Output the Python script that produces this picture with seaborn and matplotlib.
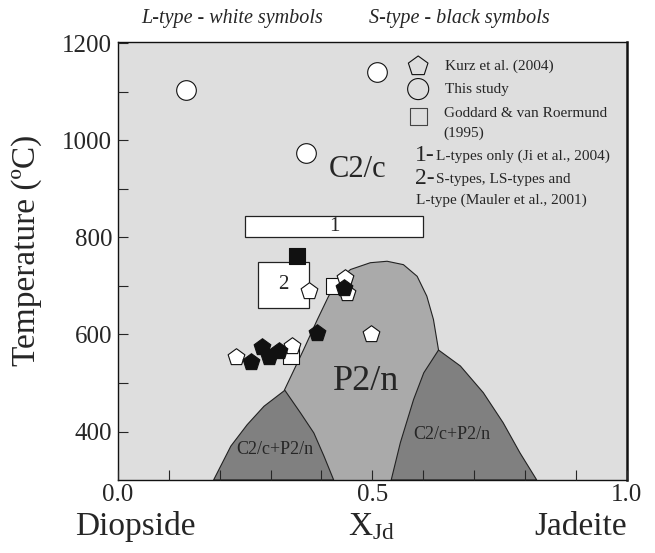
import numpy as np
import pandas as pd
import seaborn as sns
import matplotlib.pyplot as plt
from matplotlib.patches import Rectangle

# --- data ---
circle_x = [0.133, 0.369, 0.510]
circle_t = [1105, 975, 1142]

pent_white_x = [0.375, 0.447, 0.451, 0.498, 0.343, 0.233]
pent_white_t = [689, 717, 686, 600, 577, 553]
pent_black_x = [0.445, 0.392, 0.284, 0.261, 0.296, 0.316]
pent_black_t = [695, 604, 575, 544, 553, 565]

square_white_x = [0.424, 0.341]
square_white_t = [699, 555]
square_black_x = [0.351]
square_black_t = [761]

# field boxes: (x0, x1, t0, t1)
box1 = (0.25, 0.60, 800, 845)
box2 = (0.275, 0.375, 655, 750)

# phase field boundaries
dome_x = [0.327, 0.365, 0.392, 0.414, 0.431, 0.457, 0.496, 0.529, 0.561, 0.588, 0.607, 0.620, 0.630]
dome_t = [485, 569, 631, 679, 710, 734, 748, 751, 744, 720, 679, 631, 568]
left_x = [0.188, 0.222, 0.254, 0.287, 0.328, 0.359, 0.385, 0.405, 0.424]
left_t = [300, 370, 414, 452, 485, 438, 397, 349, 300]
right_x = [0.537, 0.555, 0.581, 0.601, 0.630, 0.673, 0.718, 0.757, 0.790, 0.823]
right_t = [300, 377, 466, 521, 568, 535, 480, 418, 356, 300]

sns.set_style("ticks")
plt.rcParams['font.family'] = ['Liberation Serif', 'DejaVu Serif']
plt.rcParams['mathtext.fontset'] = 'stix'

fig = plt.figure(figsize=(6.55, 5.53), dpi=100)
ax = fig.add_axes([0.180, 0.132, 0.777, 0.792])
ax.set_facecolor('#dedede')
ax.set_axisbelow(False)

ax.fill(dome_x + [0.63, 0.33], dome_t + [300, 300], color='#aaaaaa', lw=0, zorder=1)
ax.plot(dome_x, dome_t, color='#222222', lw=0.8, zorder=1.2)
ax.fill(left_x, left_t, color='#808080', ec='#222222', lw=0.8, zorder=1.5)
ax.fill(right_x, right_t, color='#808080', ec='#222222', lw=0.8, zorder=1.5)

for (x0, x1, t0, t1), lab in [(box1, '1'), (box2, '2')]:
    ax.add_patch(Rectangle((x0, t0), x1 - x0, t1 - t0, fc='white', ec='#222222', lw=0.9, zorder=2))
    ax.text((x0 + x1) / 2, (t0 + t1) / 2, lab, ha='center', va='center', fontsize=15, zorder=3)

sets = [
    (circle_x, circle_t, 'o', 'white', 200),
    (square_white_x, square_white_t, 's', 'white', 120),
    (square_black_x, square_black_t, 's', '#111111', 120),
    (pent_white_x, pent_white_t, 'p', 'white', 160),
    (pent_black_x, pent_black_t, 'p', '#111111', 160),
]
for xs, ts, m, c, s in sets:
    df = pd.DataFrame({'x': xs, 't': ts})
    sns.scatterplot(data=df, x='x', y='t', marker=m, color=c, edgecolor='#111111',
                    linewidth=0.8, s=s, ax=ax, zorder=4)

# field labels
ax.text(0.471, 940, 'C2/c', fontsize=22, ha='center', va='center')
ax.text(0.488, 503, 'P2/n', fontsize=26, ha='center', va='center')
ax.text(0.308, 363, 'C2/c+P2/n', fontsize=13, ha='center', va='center')
ax.text(0.657, 393, 'C2/c+P2/n', fontsize=13, ha='center', va='center')

# key
lx = 0.59
ax.scatter([lx], [1153], marker='p', s=220, fc='none', ec='#111111', lw=0.8)
ax.scatter([lx], [1106], marker='o', s=230, fc='none', ec='#111111', lw=0.8)
ax.scatter([lx], [1050], marker='s', s=150, fc='none', ec='#444444', lw=0.8)
kw = dict(fontsize=11, va='center')
ax.text(0.643, 1153, 'Kurz et al. (2004)', **kw)
ax.text(0.643, 1106, 'This study', **kw)
ax.text(0.64, 1055, 'Goddard & van Roermund', **kw)
ax.text(0.64, 1014, '(1995)', **kw)
ax.text(0.584, 969, '1-', fontsize=17, va='center')
ax.text(0.625, 968, 'L-types only (Ji et al., 2004)', **kw)
ax.text(0.584, 921, '2-', fontsize=17, va='center')
ax.text(0.625, 919, 'S-types, LS-types and', **kw)
ax.text(0.586, 876, 'L-type (Mauler et al., 2001)', **kw)

ax.set_xlim(0, 1)
ax.set_ylim(300, 1203)
ax.set_xticks([0, 0.5, 1.0])
ax.set_xticklabels(['0.0', '0.5', '1.0'])
ax.set_xticks(np.arange(0.1, 1.0, 0.1), minor=True)
ax.set_yticks([400, 600, 800, 1000, 1200])
ax.set_yticks([500, 700, 900, 1100], minor=True)
ax.tick_params(axis='both', which='both', direction='in', labelsize=18, length=7, width=0.8)
ax.tick_params(axis='x', pad=3)
ax.tick_params(axis='y', pad=4)
ax.set_xlabel('')
ax.set_ylabel('Temperature (ºC)', fontsize=24)
ax.yaxis.set_label_coords(-0.149, 0.525)
for sp in ax.spines.values():
    sp.set_linewidth(1.0)
    sp.set_color('#111111')
ax.spines['right'].set_linewidth(1.8)

fig.text(135 / 655, 1 - 527 / 553, 'Diopside', fontsize=24, ha='center', va='center')
fig.text(372 / 655, 1 - 527 / 553, r'X$_{\mathregular{Jd}}$', fontsize=24, ha='center', va='center')
fig.text(627 / 655, 1 - 527 / 553, 'Jadeite', fontsize=24, ha='right', va='center')
fig.text(232 / 655, 1 - 18 / 553, 'L-type - white symbols', fontsize=14.5, style='italic', ha='center', va='center')
fig.text(459 / 655, 1 - 18 / 553, 'S-type - black symbols', fontsize=14.5, style='italic', ha='center', va='center')

fig.savefig('out.png', dpi=100)
